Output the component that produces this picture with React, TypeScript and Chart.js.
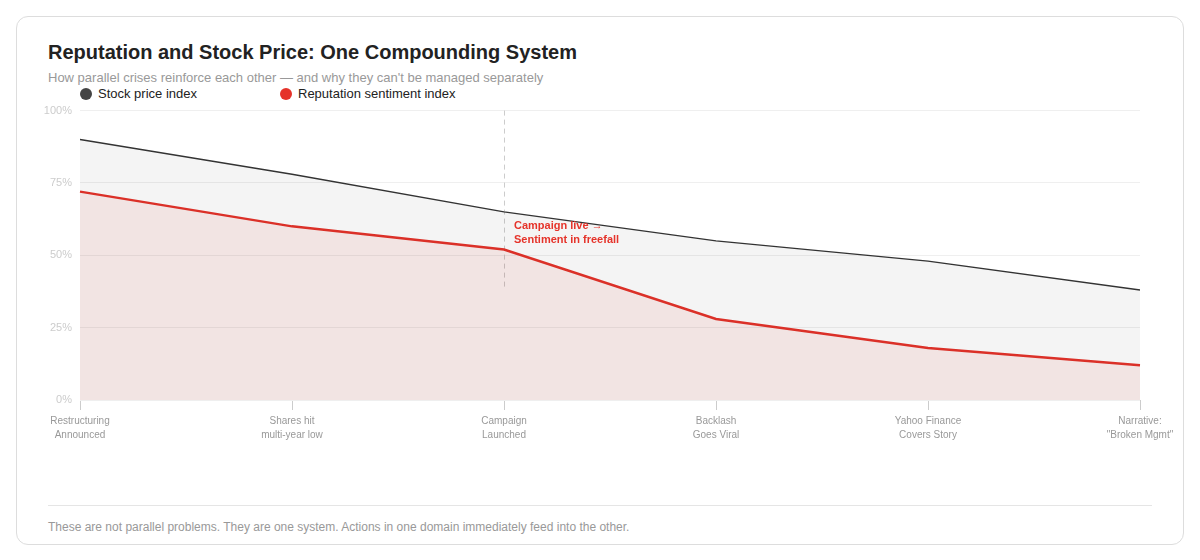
import React, { useEffect, useRef } from "react";
import { Chart, registerables } from "chart.js";

Chart.register(...registerables);

const categories: string[][] = [
  ["Restructuring", "Announced"],
  ["Shares hit", "multi-year low"],
  ["Campaign", "Launched"],
  ["Backlash", "Goes Viral"],
  ["Yahoo Finance", "Covers Story"],
  ["Narrative:", "\"Broken Mgmt\""],
];
const stockPrice: number[] = [90, 78, 65, 55, 48, 38];
const reputation: number[] = [72, 60, 52, 28, 18, 12];
const yTicks: number[] = [0, 25, 50, 75, 100];

const annotationIndex = 2;
const annotationLineEnd = 38.6;
const annotationLines: string[] = ["Campaign live \u2192", "Sentiment in freefall"];

const FONT = "'Liberation Sans', Arial, Helvetica, sans-serif";
const RED = "#e5332a";
const CANVAS_H = 375;
const CANVAS_TOP_SHIFT = 6;

const annotationPlugin = {
  id: "campaignAnnotation",
  beforeDatasetsDraw(chart: any) {
    const { ctx, chartArea, scales } = chart;
    const x = Math.round(scales.x.getPixelForValue(annotationIndex)) + 0.5;
    const yEnd = scales.y.getPixelForValue(annotationLineEnd);
    ctx.save();
    ctx.strokeStyle = "#cccccc";
    ctx.lineWidth = 1;
    ctx.setLineDash([5, 4]);
    ctx.beginPath();
    ctx.moveTo(x, chartArea.top);
    ctx.lineTo(x, yEnd);
    ctx.stroke();
    ctx.restore();
  },
  afterDatasetsDraw(chart: any) {
    const { ctx, chartArea, scales } = chart;
    const x = scales.x.getPixelForValue(annotationIndex) + 10;
    ctx.save();
    ctx.fillStyle = RED;
    ctx.font = `bold 11px ${FONT}`;
    ctx.textAlign = "left";
    ctx.textBaseline = "middle";
    const y0 = chartArea.top + 115;
    annotationLines.forEach((t, i) => ctx.fillText(t, x, y0 + i * 14));
    ctx.restore();
  },
};

export default function App() {
  const ref = useRef<HTMLCanvasElement>(null);

  useEffect(() => {
    if (!ref.current) return;
    const chart = new Chart(ref.current, {
      type: "line",
      data: {
        labels: categories as any,
        datasets: [
          {
            label: "Stock price index",
            data: stockPrice,
            borderColor: "#333333",
            borderWidth: 1.4,
            backgroundColor: "rgba(0,0,0,0.045)",
            fill: "origin",
            pointRadius: 0,
            tension: 0,
          },
          {
            label: "Reputation sentiment index",
            data: reputation,
            borderColor: RED,
            borderWidth: 2.5,
            backgroundColor: "rgba(229,49,40,0.08)",
            fill: "origin",
            pointRadius: 0,
            tension: 0,
          },
        ],
      },
      options: {
        animation: false,
        responsive: true,
        maintainAspectRatio: false,
        layout: { padding: { top: 3, right: 43, left: 0, bottom: 0 } },
        plugins: {
          legend: { display: false },
          tooltip: { enabled: false },
        },
        scales: {
          x: {
            offset: false,
            grid: {
              drawOnChartArea: false,
              drawTicks: true,
              tickLength: 10,
              color: "#cccccc",
            },
            border: { display: false },
            ticks: {
              color: "#999999",
              font: { family: FONT, size: 10, lineHeight: 1.4 },
              padding: 4,
              maxRotation: 0,
              autoSkip: false,
            },
            afterFit(scale: any) {
              scale.height = CANVAS_H - 304;
            },
          },
          y: {
            min: 0,
            max: 100,
            afterBuildTicks(scale: any) {
              scale.ticks = yTicks.map((v) => ({ value: v }));
            },
            grid: { color: "#efefef", drawTicks: false },
            border: { display: false },
            ticks: {
              color: "#cccccc",
              font: { family: FONT, size: 11 },
              padding: 8,
              callback: (v: any) => `${v}%`,
            },
            afterFit(scale: any) {
              scale.width = 63;
            },
          },
        },
      },
      plugins: [annotationPlugin],
    });
    return () => chart.destroy();
  }, []);

  const legendItems = [
    { label: "Stock price index", color: "#444444" },
    { label: "Reputation sentiment index", color: RED },
  ];

  return (
    <div
      style={{
        margin: 8,
        border: "1px solid #dddddd",
        borderRadius: 12,
        padding: "23px 31px 9px 31px",
        fontFamily: FONT,
        background: "#ffffff",
      }}
    >
      <div style={{ fontSize: 20, fontWeight: 700, lineHeight: "24px", color: "#222222" }}>
        Reputation and Stock Price: One Compounding System
      </div>
      <div style={{ fontSize: 13, lineHeight: "16px", color: "#999999", marginTop: 6 }}>
        How parallel crises reinforce each other — and why they can't be managed separately
      </div>
      <div style={{ display: "flex", paddingLeft: 32, height: 16, alignItems: "center" }}>
        {legendItems.map((it) => (
          <div key={it.label} style={{ width: 200, display: "flex", alignItems: "center" }}>
            <span
              style={{
                display: "inline-block",
                width: 12,
                height: 12,
                borderRadius: "50%",
                background: it.color,
                marginRight: 6,
              }}
            />
            <span style={{ fontSize: 13, color: "#222222", lineHeight: "16px" }}>{it.label}</span>
          </div>
        ))}
      </div>
      <div
        style={{
          position: "relative",
          height: CANVAS_H,
          marginRight: -31,
          marginLeft: -31,
          marginTop: -CANVAS_TOP_SHIFT,
        }}
      >
        <canvas ref={ref} />
      </div>
      <div
        style={{
          borderTop: "1px solid #e5e5e5",
          marginTop: 34,
          paddingTop: 14,
          fontSize: 12,
          lineHeight: "15px",
          color: "#999999",
        }}
      >
        These are not parallel problems. They are one system. Actions in one domain immediately feed into the other.
      </div>
    </div>
  );
}
